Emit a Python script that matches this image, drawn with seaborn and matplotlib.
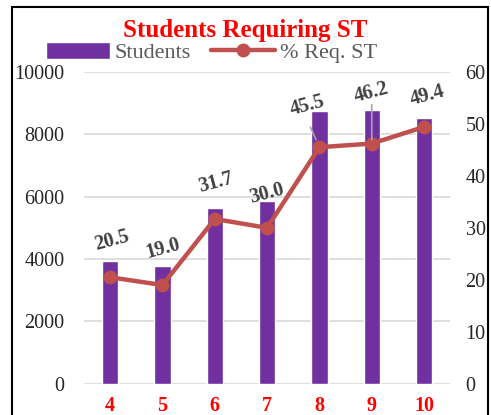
import matplotlib
matplotlib.use('Agg')
import matplotlib.pyplot as plt
import seaborn as sns
from matplotlib.patches import Rectangle

# dados
grades = ['4', '5', '6', '7', '8', '9', '10']
students = [3940, 3790, 5630, 5865, 8750, 8790, 8515]
pct_req = [20.5, 19.0, 31.7, 30.0, 45.5, 46.2, 49.4]
left_ticks = [0, 2000, 4000, 6000, 8000, 10000]
right_ticks = [0, 10, 20, 30, 40, 50, 60]

sns.set_style('white')
plt.rcParams['font.family'] = ['Liberation Serif', 'DejaVu Serif']

purple = '#7030A0'
red_line = '#C0504D'

fig = plt.figure(figsize=(4.91, 4.15), dpi=100)
ax = fig.add_axes([0.171, 0.075, 0.746, 0.752])

sns.barplot(x=grades, y=students, color=purple, width=0.31, ax=ax,
            label='Students', saturation=1)
ax.set_ylim(0, 10000)
ax.set_yticks(left_ticks)
ax.set_xlim(-0.5, 6.5)
ax.yaxis.grid(True, color='#D9D9D9', linewidth=1.2)
ax.set_axisbelow(True)
for s in ax.spines.values():
    s.set_visible(False)
ax.tick_params(axis='y', length=0, labelsize=14.5, pad=14)
ax.tick_params(axis='x', length=0, labelsize=14.5, pad=9)
for t in ax.get_xticklabels():
    t.set_color('red')
    t.set_fontweight('bold')
ax.set_xlabel('')
ax.set_ylabel('')

ax2 = ax.twinx()
sns.lineplot(x=grades, y=pct_req, color=red_line, linewidth=3.2, marker='o',
             markersize=10, markeredgewidth=0, sort=False, ax=ax2,
             label='% Req. ST')
ax2.set_ylim(0, 60)
ax2.set_yticks(right_ticks)
for s in ax2.spines.values():
    s.set_visible(False)
ax2.tick_params(axis='y', length=0, labelsize=14.5, pad=11)
ax2.set_ylabel('')
ax2.get_legend().remove()

# rotulos dos pontos
offsets = [(2, 37), (1, 36), (1, 36), (0, 34), (-12, 42), (0, 51), (3, 31)]
for i, (v, off) in enumerate(zip(pct_req, offsets)):
    ax2.annotate(f'{v:.1f}', (i, v), xytext=off, textcoords='offset pixels',
                 ha='center', va='center', rotation=15, fontsize=14.5,
                 fontweight='bold', color='#404040')
# linhas guia
ax2.annotate('', (4, pct_req[4]), xytext=(-9, 20), textcoords='offset pixels',
             arrowprops=dict(arrowstyle='-', color='#A6A6A6', lw=1.2,
                             shrinkA=0, shrinkB=6))
ax2.annotate('', (5, pct_req[5]), xytext=(0, 39), textcoords='offset pixels',
             arrowprops=dict(arrowstyle='-', color='#A6A6A6', lw=1.2,
                             shrinkA=0, shrinkB=3))

h1, l1 = ax.get_legend_handles_labels()
h2, l2 = ax2.get_legend_handles_labels()
if ax.get_legend():
    ax.get_legend().remove()
leg = fig.legend(h1 + h2, l1 + l2, loc='center', bbox_to_anchor=(0.43, 0.874),
                 ncol=2, frameon=False, fontsize=16, handlelength=2.9,
                 handleheight=0.8, columnspacing=0.9, handletextpad=0.2)
for t in leg.get_texts():
    t.set_color('#595959')

fig.text(0.5, 0.927, 'Students Requiring ST', ha='center', va='center',
         fontsize=18, fontweight='bold', color='red')

fig.add_artist(Rectangle((12 / 491, -0.05), 476 / 491, 1.05 - 7 / 415,
                         transform=fig.transFigure, fill=False,
                         edgecolor='black', linewidth=1.5))

fig.savefig('out.png', dpi=100)
